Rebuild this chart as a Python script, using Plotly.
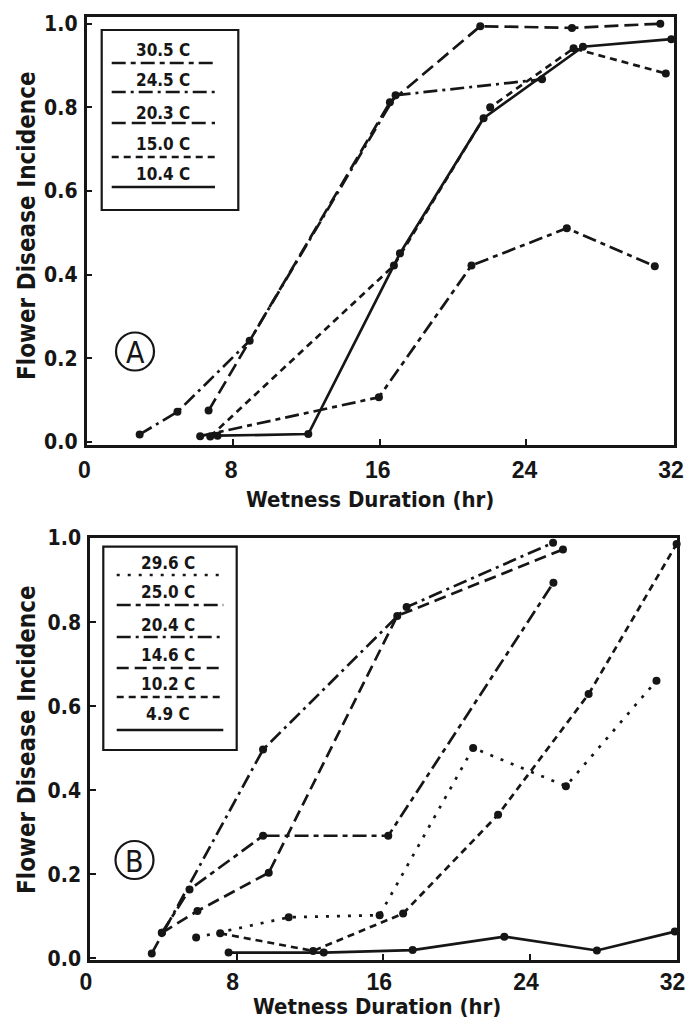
import plotly.graph_objects as go

W, H = 686, 1020

# ---------------- Panel A data ----------------
a_labels = ["30.5 C", "24.5 C", "20.3 C", "15.0 C", "10.4 C"]
a_hr_305 = [6.2, 15.95, 21.0, 26.2, 31.0]
a_val_305 = [0.014, 0.107, 0.422, 0.511, 0.42]
a_hr_245 = [2.9, 4.96, 8.9, 16.86, 24.85]
a_val_245 = [0.018, 0.072, 0.242, 0.829, 0.867]
a_hr_203 = [6.66, 16.55, 21.48, 26.48, 31.3]
a_val_203 = [0.075, 0.812, 0.994, 0.99, 1.0]
a_hr_150 = [6.75, 16.77, 22.02, 26.57, 31.6]
a_val_150 = [0.013, 0.422, 0.80, 0.941, 0.881]
a_hr_104 = [7.15, 12.1, 17.1, 21.66, 27.08, 31.9]
a_val_104 = [0.015, 0.019, 0.451, 0.774, 0.945, 0.963]

# ---------------- Panel B data ----------------
b_labels = ["29.6 C", "25.0 C", "20.4 C", "14.6 C", "10.2 C", "4.9 C"]
b_hr_296 = [5.79, 10.84, 15.8, 20.9, 25.96, 30.9]
b_val_296 = [0.050, 0.098, 0.103, 0.501, 0.41, 0.661]
b_hr_250 = [3.92, 5.43, 9.44, 16.27, 25.28]
b_val_250 = [0.061, 0.164, 0.292, 0.292, 0.894]
b_hr_204 = [3.37, 9.44, 17.27, 25.26]
b_val_204 = [0.012, 0.497, 0.836, 0.989]
b_hr_146 = [3.92, 5.86, 9.75, 16.76, 25.8]
b_val_146 = [0.061, 0.113, 0.204, 0.815, 0.973]
b_hr_102 = [7.1, 12.17, 17.08, 22.26, 27.2, 32.0]
b_val_102 = [0.060, 0.018, 0.107, 0.342, 0.629, 0.986]
b_hr_49 = [7.56, 12.75, 17.6, 22.6, 27.65, 31.9]
b_val_49 = [0.014, 0.014, 0.020, 0.052, 0.019, 0.064]

x_ticks = [0, 8, 16, 24, 32]
x_ticktext = ["0", "8", "16", "24", "32"]
y_ticks = [0.0, 0.2, 0.4, 0.6, 0.8, 1.0]
y_ticktext = ["0.0", "0.2", "0.4", "0.6", "0.8", "1.0"]
x_title = "Wetness Duration (hr)"
y_title = "Flower Disease Incidence"

INK = "#161616"
FONT = "DejaVu Sans Condensed, DejaVu Sans, sans-serif"
NUM_FONT = "Liberation Sans, Arial, sans-serif"

# dash styles
D_LONGSHORT = "14px,5px,5px,5px"
D_DASHDOT = "14px,5px,3px,5px"
D_LONG = "14px,6px"
D_SHORT = "7px,5px"
D_DOT = "3px,8px"
D_MED = "12px,6px"

a_series = [
    (a_hr_305, a_val_305, D_LONGSHORT),
    (a_hr_245, a_val_245, D_DASHDOT),
    (a_hr_203, a_val_203, D_LONG),
    (a_hr_150, a_val_150, D_SHORT),
    (a_hr_104, a_val_104, "solid"),
]
b_series = [
    (b_hr_296, b_val_296, D_DOT),
    (b_hr_250, b_val_250, D_LONGSHORT),
    (b_hr_204, b_val_204, D_DASHDOT),
    (b_hr_146, b_val_146, D_MED),
    (b_hr_102, b_val_102, D_SHORT),
    (b_hr_49, b_val_49, "solid"),
]

fig = go.Figure()
for (xs, ys, dash), name in zip(a_series, a_labels):
    fig.add_trace(go.Scatter(x=xs, y=ys, mode="lines+markers", name=name,
                             line=dict(color=INK, width=2.7, dash=dash),
                             marker=dict(color=INK, size=8),
                             xaxis="x", yaxis="y", cliponaxis=False,
                             showlegend=False))
for (xs, ys, dash), name in zip(b_series, b_labels):
    fig.add_trace(go.Scatter(x=xs, y=ys, mode="lines+markers", name=name,
                             line=dict(color=INK, width=2.7, dash=dash),
                             marker=dict(color=INK, size=8),
                             xaxis="x2", yaxis="y2", cliponaxis=False,
                             showlegend=False))


def px(x):
    return x / W


def py(y):
    return 1 - y / H


axis_common = dict(showgrid=False, zeroline=False, showline=True, mirror=True,
                   linecolor=INK, linewidth=2.5, ticks="inside", ticklen=6,
                   tickwidth=2, tickcolor=INK, ticklabeloverflow="allow",
                   automargin=False)
xtick_font = dict(family=NUM_FONT, size=23, color=INK, weight="bold")
ytick_font = dict(family=FONT, size=21, color=INK, weight="bold")

fig.update_layout(
    width=W, height=H, margin=dict(l=0, r=0, t=0, b=0, autoexpand=False),
    paper_bgcolor="white", plot_bgcolor="white",
    xaxis=dict(domain=[px(86.5), px(673.5)], range=[0, 32.02], anchor="y",
               tickvals=x_ticks, ticktext=x_ticktext, ticklabelstandoff=3,
               ticklabelshift=-2, tickfont=xtick_font, **axis_common),
    yaxis=dict(domain=[py(445), py(17)], range=[-0.0072, 1.016], anchor="x",
               tickvals=y_ticks, ticktext=y_ticktext, ticklabelstandoff=2,
               tickfont=ytick_font, **axis_common),
    xaxis2=dict(domain=[px(90), px(677)], range=[0, 32.02], anchor="y2",
                tickvals=x_ticks, ticktext=x_ticktext, ticklabelstandoff=0,
                ticklabelshift=-4, tickfont=xtick_font, **axis_common),
    yaxis2=dict(domain=[py(960), py(537.5)], range=[-0.0036, 1.0015], anchor="x2",
                tickvals=y_ticks, ticktext=y_ticktext, ticklabelstandoff=2,
                tickfont=ytick_font, **axis_common),
)

annotations = []
shapes = []

title_font = dict(family=FONT, size=22, color=INK)
# axis titles
for (xc, yc) in [(370, 499), (377, 1006)]:
    annotations.append(dict(text="<b>" + x_title + "</b>", x=px(xc), y=py(yc),
                            xref="paper", yref="paper", showarrow=False,
                            font=title_font, xanchor="center", yanchor="middle"))
for (xc, yc) in [(27, 226), (27, 740)]:
    annotations.append(dict(text="<b>" + y_title + "</b>", x=px(xc), y=py(yc),
                            xref="paper", yref="paper", showarrow=False,
                            textangle=-90, font=dict(family=FONT, size=24, color=INK),
                            xanchor="center", yanchor="middle"))

# circled panel letters
for letter, (cx, cy) in [("A", (135, 351.5)), ("B", (134.5, 860))]:
    r = 19
    shapes.append(dict(type="circle", xref="paper", yref="paper",
                       x0=px(cx - r), x1=px(cx + r), y0=py(cy + r), y1=py(cy - r),
                       line=dict(color=INK, width=2.2)))
    annotations.append(dict(text=letter, x=px(cx), y=py(cy + 1), xref="paper",
                            yref="paper", showarrow=False,
                            font=dict(family=FONT, size=30, color=INK),
                            xanchor="center", yanchor="middle"))

# custom legends
leg_font = dict(family=FONT, size=17, color=INK)


def add_legend(box, entries, line_x, text_x):
    x0, y0, x1, y1 = box
    shapes.append(dict(type="rect", xref="paper", yref="paper",
                       x0=px(x0), x1=px(x1), y0=py(y1), y1=py(y0),
                       line=dict(color=INK, width=2.2), fillcolor="white",
                       layer="above"))
    for label, dash, ty, ly in entries:
        shapes.append(dict(type="line", xref="paper", yref="paper",
                           x0=px(line_x[0]), x1=px(line_x[1]), y0=py(ly), y1=py(ly),
                           line=dict(color=INK, width=2.6, dash=dash)))
        annotations.append(dict(text="<b>" + label + "</b>", x=px(text_x), y=py(ty),
                                xref="paper", yref="paper", showarrow=False,
                                font=leg_font, xanchor="center", yanchor="middle"))


a_text_y = [50, 80, 113, 144, 174]
a_line_y = [63, 92, 123, 157, 187]
add_legend((101.7, 30, 238.3, 210),
           [(lab, s[2], ty, ly) for lab, s, ty, ly in zip(a_labels, a_series, a_text_y, a_line_y)],
           (111.7, 215), 163)

b_text_y = [563, 592, 625, 655, 684, 714]
b_line_y = [575, 605, 637, 668, 697, 730]
add_legend((103.3, 546.7, 236.7, 750),
           [(lab, s[2], ty, ly) for lab, s, ty, ly in zip(b_labels, b_series, b_text_y, b_line_y)],
           (116.7, 223.3), 168)

fig.update_layout(annotations=annotations, shapes=shapes)
fig.write_html("out.html")
